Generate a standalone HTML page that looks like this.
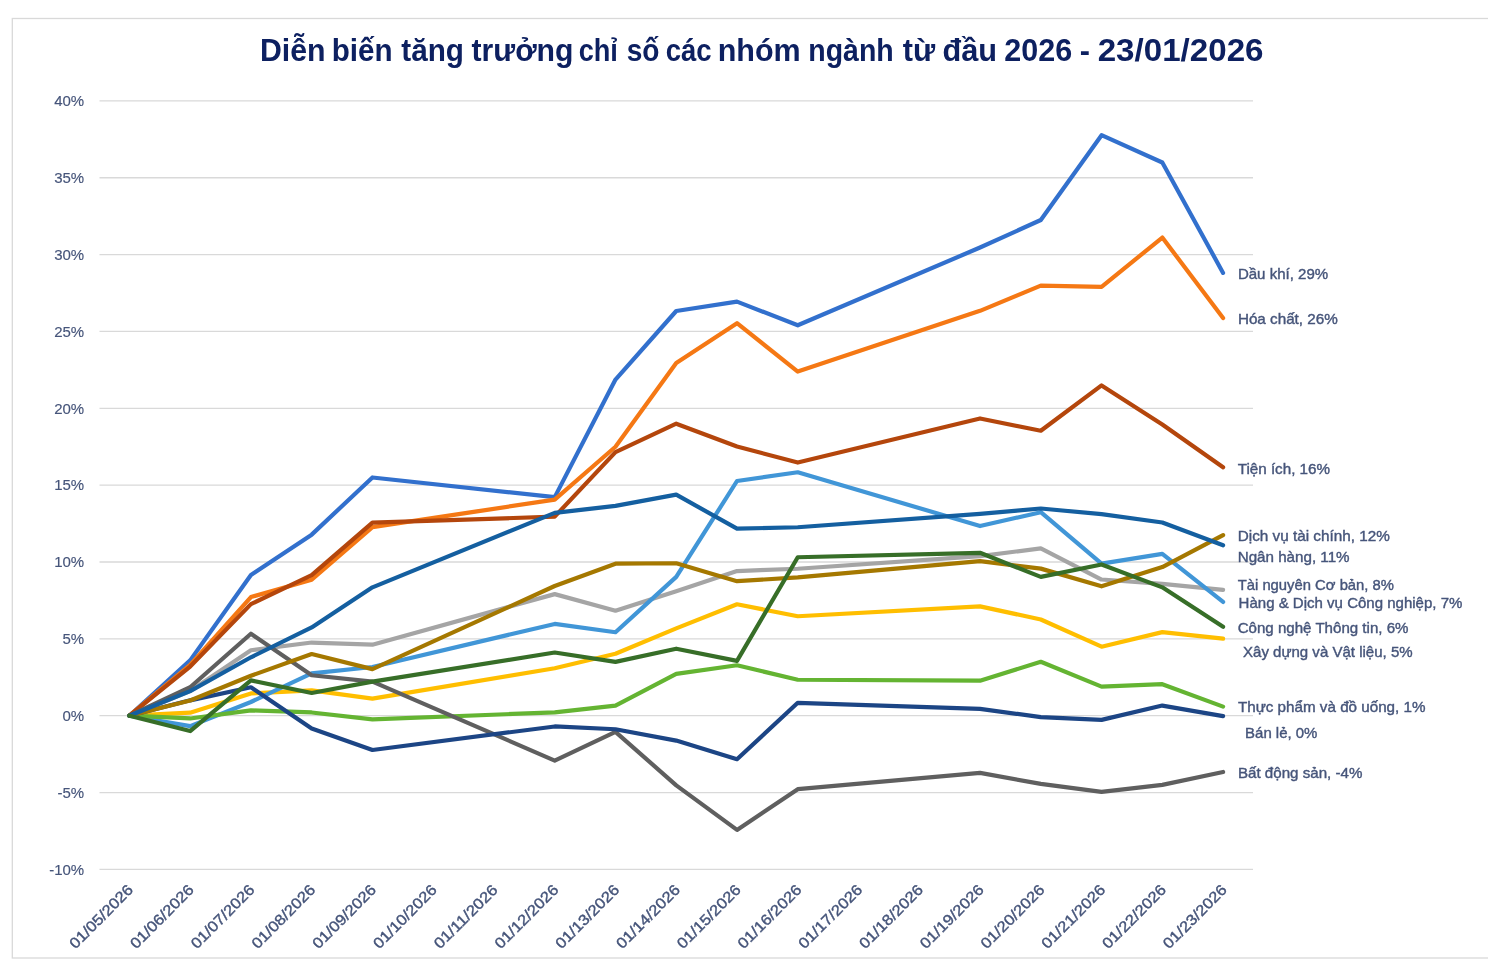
<!DOCTYPE html><html><head><meta charset="utf-8"><style>html,body{margin:0;padding:0;background:#fff;width:1488px;height:960px;overflow:hidden}svg{display:block;filter:blur(0.35px)}text{font-family:"Liberation Sans",sans-serif}</style></head><body>
<svg width="1488" height="960" viewBox="0 0 1488 960">
<rect x="0" y="0" width="1488" height="960" fill="#fff"/>
<rect x="12.3" y="18.5" width="1500" height="939.5" fill="none" stroke="#D9D9D9" stroke-width="1.3"/>
<text x="259.90" y="61" font-size="31" font-weight="bold" fill="#0D2060" textLength="65.60" lengthAdjust="spacingAndGlyphs">Diễn</text>
<text x="331.70" y="61" font-size="31" font-weight="bold" fill="#0D2060" textLength="60.80" lengthAdjust="spacingAndGlyphs">biến</text>
<text x="401.30" y="61" font-size="31" font-weight="bold" fill="#0D2060" textLength="62.60" lengthAdjust="spacingAndGlyphs">tăng</text>
<text x="471.50" y="61" font-size="31" font-weight="bold" fill="#0D2060" textLength="102.00" lengthAdjust="spacingAndGlyphs">trưởng</text>
<text x="578.70" y="61" font-size="31" font-weight="bold" fill="#0D2060" textLength="39.20" lengthAdjust="spacingAndGlyphs">chỉ</text>
<text x="626.70" y="61" font-size="31" font-weight="bold" fill="#0D2060" textLength="32.80" lengthAdjust="spacingAndGlyphs">số</text>
<text x="665.70" y="61" font-size="31" font-weight="bold" fill="#0D2060" textLength="46.00" lengthAdjust="spacingAndGlyphs">các</text>
<text x="717.70" y="61" font-size="31" font-weight="bold" fill="#0D2060" textLength="83.00" lengthAdjust="spacingAndGlyphs">nhóm</text>
<text x="808.30" y="61" font-size="31" font-weight="bold" fill="#0D2060" textLength="85.40" lengthAdjust="spacingAndGlyphs">ngành</text>
<text x="902.70" y="61" font-size="31" font-weight="bold" fill="#0D2060" textLength="32.40" lengthAdjust="spacingAndGlyphs">từ</text>
<text x="942.50" y="61" font-size="31" font-weight="bold" fill="#0D2060" textLength="54.60" lengthAdjust="spacingAndGlyphs">đầu</text>
<text x="1004.30" y="61" font-size="31" font-weight="bold" fill="#0D2060" textLength="67.80" lengthAdjust="spacingAndGlyphs">2026</text>
<text x="1079.70" y="61" font-size="31" font-weight="bold" fill="#0D2060" textLength="10.20" lengthAdjust="spacingAndGlyphs">-</text>
<text x="1097.70" y="61" font-size="31" font-weight="bold" fill="#0D2060" textLength="165.80" lengthAdjust="spacingAndGlyphs">23/01/2026</text>
<line x1="99.5" y1="869.40" x2="1253" y2="869.40" stroke="#D9D9D9" stroke-width="1.3"/>
<text x="84.2" y="874.70" font-size="15" fill="#46557A" stroke="#46557A" stroke-width="0.15" text-anchor="end">-10%</text>
<line x1="99.5" y1="792.55" x2="1253" y2="792.55" stroke="#D9D9D9" stroke-width="1.3"/>
<text x="84.2" y="797.85" font-size="15" fill="#46557A" stroke="#46557A" stroke-width="0.15" text-anchor="end">-5%</text>
<line x1="99.5" y1="715.70" x2="1253" y2="715.70" stroke="#D9D9D9" stroke-width="1.3"/>
<text x="84.2" y="721.00" font-size="15" fill="#46557A" stroke="#46557A" stroke-width="0.15" text-anchor="end">0%</text>
<line x1="99.5" y1="638.85" x2="1253" y2="638.85" stroke="#D9D9D9" stroke-width="1.3"/>
<text x="84.2" y="644.15" font-size="15" fill="#46557A" stroke="#46557A" stroke-width="0.15" text-anchor="end">5%</text>
<line x1="99.5" y1="562.00" x2="1253" y2="562.00" stroke="#D9D9D9" stroke-width="1.3"/>
<text x="84.2" y="567.30" font-size="15" fill="#46557A" stroke="#46557A" stroke-width="0.15" text-anchor="end">10%</text>
<line x1="99.5" y1="485.15" x2="1253" y2="485.15" stroke="#D9D9D9" stroke-width="1.3"/>
<text x="84.2" y="490.45" font-size="15" fill="#46557A" stroke="#46557A" stroke-width="0.15" text-anchor="end">15%</text>
<line x1="99.5" y1="408.30" x2="1253" y2="408.30" stroke="#D9D9D9" stroke-width="1.3"/>
<text x="84.2" y="413.60" font-size="15" fill="#46557A" stroke="#46557A" stroke-width="0.15" text-anchor="end">20%</text>
<line x1="99.5" y1="331.45" x2="1253" y2="331.45" stroke="#D9D9D9" stroke-width="1.3"/>
<text x="84.2" y="336.75" font-size="15" fill="#46557A" stroke="#46557A" stroke-width="0.15" text-anchor="end">25%</text>
<line x1="99.5" y1="254.60" x2="1253" y2="254.60" stroke="#D9D9D9" stroke-width="1.3"/>
<text x="84.2" y="259.90" font-size="15" fill="#46557A" stroke="#46557A" stroke-width="0.15" text-anchor="end">30%</text>
<line x1="99.5" y1="177.75" x2="1253" y2="177.75" stroke="#D9D9D9" stroke-width="1.3"/>
<text x="84.2" y="183.05" font-size="15" fill="#46557A" stroke="#46557A" stroke-width="0.15" text-anchor="end">35%</text>
<line x1="99.5" y1="100.90" x2="1253" y2="100.90" stroke="#D9D9D9" stroke-width="1.3"/>
<text x="84.2" y="106.20" font-size="15" fill="#46557A" stroke="#46557A" stroke-width="0.15" text-anchor="end">40%</text>
<text transform="translate(134.10,890.80) rotate(-45)" font-size="15" fill="#46557A" stroke="#46557A" stroke-width="0.4" text-anchor="end" textLength="83" lengthAdjust="spacingAndGlyphs">01/05/2026</text>
<text transform="translate(194.86,890.80) rotate(-45)" font-size="15" fill="#46557A" stroke="#46557A" stroke-width="0.4" text-anchor="end" textLength="83" lengthAdjust="spacingAndGlyphs">01/06/2026</text>
<text transform="translate(255.62,890.80) rotate(-45)" font-size="15" fill="#46557A" stroke="#46557A" stroke-width="0.4" text-anchor="end" textLength="83" lengthAdjust="spacingAndGlyphs">01/07/2026</text>
<text transform="translate(316.38,890.80) rotate(-45)" font-size="15" fill="#46557A" stroke="#46557A" stroke-width="0.4" text-anchor="end" textLength="83" lengthAdjust="spacingAndGlyphs">01/08/2026</text>
<text transform="translate(377.14,890.80) rotate(-45)" font-size="15" fill="#46557A" stroke="#46557A" stroke-width="0.4" text-anchor="end" textLength="83" lengthAdjust="spacingAndGlyphs">01/09/2026</text>
<text transform="translate(437.90,890.80) rotate(-45)" font-size="15" fill="#46557A" stroke="#46557A" stroke-width="0.4" text-anchor="end" textLength="83" lengthAdjust="spacingAndGlyphs">01/10/2026</text>
<text transform="translate(498.66,890.80) rotate(-45)" font-size="15" fill="#46557A" stroke="#46557A" stroke-width="0.4" text-anchor="end" textLength="83" lengthAdjust="spacingAndGlyphs">01/11/2026</text>
<text transform="translate(559.42,890.80) rotate(-45)" font-size="15" fill="#46557A" stroke="#46557A" stroke-width="0.4" text-anchor="end" textLength="83" lengthAdjust="spacingAndGlyphs">01/12/2026</text>
<text transform="translate(620.18,890.80) rotate(-45)" font-size="15" fill="#46557A" stroke="#46557A" stroke-width="0.4" text-anchor="end" textLength="83" lengthAdjust="spacingAndGlyphs">01/13/2026</text>
<text transform="translate(680.94,890.80) rotate(-45)" font-size="15" fill="#46557A" stroke="#46557A" stroke-width="0.4" text-anchor="end" textLength="83" lengthAdjust="spacingAndGlyphs">01/14/2026</text>
<text transform="translate(741.70,890.80) rotate(-45)" font-size="15" fill="#46557A" stroke="#46557A" stroke-width="0.4" text-anchor="end" textLength="83" lengthAdjust="spacingAndGlyphs">01/15/2026</text>
<text transform="translate(802.46,890.80) rotate(-45)" font-size="15" fill="#46557A" stroke="#46557A" stroke-width="0.4" text-anchor="end" textLength="83" lengthAdjust="spacingAndGlyphs">01/16/2026</text>
<text transform="translate(863.22,890.80) rotate(-45)" font-size="15" fill="#46557A" stroke="#46557A" stroke-width="0.4" text-anchor="end" textLength="83" lengthAdjust="spacingAndGlyphs">01/17/2026</text>
<text transform="translate(923.98,890.80) rotate(-45)" font-size="15" fill="#46557A" stroke="#46557A" stroke-width="0.4" text-anchor="end" textLength="83" lengthAdjust="spacingAndGlyphs">01/18/2026</text>
<text transform="translate(984.74,890.80) rotate(-45)" font-size="15" fill="#46557A" stroke="#46557A" stroke-width="0.4" text-anchor="end" textLength="83" lengthAdjust="spacingAndGlyphs">01/19/2026</text>
<text transform="translate(1045.50,890.80) rotate(-45)" font-size="15" fill="#46557A" stroke="#46557A" stroke-width="0.4" text-anchor="end" textLength="83" lengthAdjust="spacingAndGlyphs">01/20/2026</text>
<text transform="translate(1106.26,890.80) rotate(-45)" font-size="15" fill="#46557A" stroke="#46557A" stroke-width="0.4" text-anchor="end" textLength="83" lengthAdjust="spacingAndGlyphs">01/21/2026</text>
<text transform="translate(1167.02,890.80) rotate(-45)" font-size="15" fill="#46557A" stroke="#46557A" stroke-width="0.4" text-anchor="end" textLength="83" lengthAdjust="spacingAndGlyphs">01/22/2026</text>
<text transform="translate(1227.78,890.80) rotate(-45)" font-size="15" fill="#46557A" stroke="#46557A" stroke-width="0.4" text-anchor="end" textLength="83" lengthAdjust="spacingAndGlyphs">01/23/2026</text>
<polyline points="129.40,715.70 190.16,660.37 250.92,574.91 311.68,534.64 372.44,477.47 554.72,497.14 615.48,379.56 676.24,311.01 737.00,301.63 797.76,325.30 980.04,247.53 1040.80,220.02 1101.56,135.18 1162.32,162.53 1223.08,272.89" fill="none" stroke="#3270CD" stroke-width="4.20" stroke-linejoin="round" stroke-linecap="round"/>
<polyline points="129.40,715.70 190.16,664.98 250.92,597.04 311.68,579.68 372.44,527.11 554.72,499.60 615.48,446.73 676.24,362.96 737.00,323.15 797.76,371.57 980.04,310.85 1040.80,285.65 1101.56,286.88 1162.32,237.54 1223.08,318.08" fill="none" stroke="#F57814" stroke-width="4.20" stroke-linejoin="round" stroke-linecap="round"/>
<polyline points="129.40,715.70 190.16,691.11 250.92,650.22 311.68,642.54 372.44,644.69 554.72,594.12 615.48,610.72 676.24,591.20 737.00,571.07 797.76,568.76 980.04,556.16 1040.80,548.32 1101.56,579.52 1162.32,583.83 1223.08,589.82" fill="none" stroke="#A5A5A5" stroke-width="4.20" stroke-linejoin="round" stroke-linecap="round"/>
<polyline points="129.40,715.70 190.16,712.63 250.92,693.41 311.68,690.34 372.44,698.64 554.72,668.21 615.48,653.76 676.24,628.40 737.00,604.27 797.76,616.26 980.04,606.42 1040.80,619.48 1101.56,646.69 1162.32,632.09 1223.08,638.70" fill="none" stroke="#FFBE00" stroke-width="4.20" stroke-linejoin="round" stroke-linecap="round"/>
<polyline points="129.40,715.70 190.16,726.15 250.92,702.02 311.68,673.43 372.44,666.98 554.72,623.94 615.48,632.24 676.24,576.91 737.00,481.00 797.76,472.24 980.04,526.03 1040.80,512.20 1101.56,563.69 1162.32,553.85 1223.08,601.96" fill="none" stroke="#4196D7" stroke-width="4.20" stroke-linejoin="round" stroke-linecap="round"/>
<polyline points="129.40,715.70 190.16,718.47 250.92,710.32 311.68,712.47 372.44,719.39 554.72,712.32 615.48,705.56 676.24,673.89 737.00,665.29 797.76,679.73 980.04,680.66 1040.80,661.75 1101.56,686.65 1162.32,684.19 1223.08,706.63" fill="none" stroke="#64B432" stroke-width="4.20" stroke-linejoin="round" stroke-linecap="round"/>
<polyline points="129.40,715.70 190.16,666.52 250.92,604.11 311.68,575.06 372.44,522.65 554.72,516.66 615.48,452.10 676.24,423.67 737.00,446.57 797.76,462.56 980.04,418.44 1040.80,430.74 1101.56,385.40 1162.32,424.44 1223.08,467.32" fill="none" stroke="#B4460C" stroke-width="4.20" stroke-linejoin="round" stroke-linecap="round"/>
<polyline points="129.40,715.70 190.16,687.27 250.92,633.78 311.68,675.28 372.44,681.58 554.72,760.58 615.48,731.84 676.24,785.33 737.00,829.90 797.76,789.17 980.04,772.88 1040.80,783.94 1101.56,791.94 1162.32,784.87 1223.08,771.95" fill="none" stroke="#5F5F5F" stroke-width="4.20" stroke-linejoin="round" stroke-linecap="round"/>
<polyline points="129.40,715.70 190.16,700.33 250.92,687.27 311.68,728.46 372.44,749.98 554.72,726.46 615.48,729.23 676.24,740.60 737.00,759.20 797.76,702.79 980.04,708.94 1040.80,717.08 1101.56,719.85 1162.32,705.56 1223.08,716.16" fill="none" stroke="#1C4585" stroke-width="4.20" stroke-linejoin="round" stroke-linecap="round"/>
<polyline points="129.40,715.70 190.16,700.48 250.92,675.74 311.68,654.07 372.44,669.13 554.72,585.98 615.48,563.69 676.24,563.23 737.00,581.21 797.76,577.37 980.04,561.08 1040.80,568.61 1101.56,586.28 1162.32,567.07 1223.08,535.10" fill="none" stroke="#A57800" stroke-width="4.20" stroke-linejoin="round" stroke-linecap="round"/>
<polyline points="129.40,715.70 190.16,691.11 250.92,657.29 311.68,627.48 372.44,587.36 554.72,512.82 615.48,505.90 676.24,494.68 737.00,528.65 797.76,527.26 980.04,513.89 1040.80,508.51 1101.56,514.20 1162.32,522.50 1223.08,545.25" fill="none" stroke="#145FA0" stroke-width="4.20" stroke-linejoin="round" stroke-linecap="round"/>
<polyline points="129.40,715.70 190.16,731.07 250.92,680.35 311.68,692.95 372.44,681.58 554.72,652.53 615.48,661.91 676.24,648.69 737.00,660.83 797.76,557.24 980.04,552.78 1040.80,576.91 1101.56,564.46 1162.32,587.36 1223.08,626.86" fill="none" stroke="#376E28" stroke-width="4.20" stroke-linejoin="round" stroke-linecap="round"/>
<text x="1237.9" y="278.8" font-size="15" fill="#46557A" stroke="#46557A" stroke-width="0.4" textLength="90.3" lengthAdjust="spacingAndGlyphs">Dầu khí, 29%</text>
<text x="1237.9" y="323.9" font-size="15" fill="#46557A" stroke="#46557A" stroke-width="0.4" textLength="99.9" lengthAdjust="spacingAndGlyphs">Hóa chất, 26%</text>
<text x="1237.7" y="473.5" font-size="15" fill="#46557A" stroke="#46557A" stroke-width="0.4" textLength="92.3" lengthAdjust="spacingAndGlyphs">Tiện ích, 16%</text>
<text x="1237.7" y="540.5" font-size="15" fill="#46557A" stroke="#46557A" stroke-width="0.4" textLength="152.2" lengthAdjust="spacingAndGlyphs">Dịch vụ tài chính, 12%</text>
<text x="1237.7" y="562.1" font-size="15" fill="#46557A" stroke="#46557A" stroke-width="0.4" textLength="111.9" lengthAdjust="spacingAndGlyphs">Ngân hàng, 11%</text>
<text x="1237.7" y="589.6" font-size="15" fill="#46557A" stroke="#46557A" stroke-width="0.4" textLength="156.3" lengthAdjust="spacingAndGlyphs">Tài nguyên Cơ bản, 8%</text>
<text x="1238.6" y="608.1" font-size="15" fill="#46557A" stroke="#46557A" stroke-width="0.4" textLength="223.8" lengthAdjust="spacingAndGlyphs">Hàng &amp; Dịch vụ Công nghiệp, 7%</text>
<text x="1237.7" y="633.2" font-size="15" fill="#46557A" stroke="#46557A" stroke-width="0.4" textLength="170.8" lengthAdjust="spacingAndGlyphs">Công nghệ Thông tin, 6%</text>
<text x="1243.0" y="656.5" font-size="15" fill="#46557A" stroke="#46557A" stroke-width="0.4" textLength="169.6" lengthAdjust="spacingAndGlyphs">Xây dựng và Vật liệu, 5%</text>
<text x="1237.9" y="712.4" font-size="15" fill="#46557A" stroke="#46557A" stroke-width="0.4" textLength="187.6" lengthAdjust="spacingAndGlyphs">Thực phẩm và đồ uống, 1%</text>
<text x="1245.1" y="737.7" font-size="15" fill="#46557A" stroke="#46557A" stroke-width="0.4" textLength="72.3" lengthAdjust="spacingAndGlyphs">Bán lẻ, 0%</text>
<text x="1237.9" y="777.8" font-size="15" fill="#46557A" stroke="#46557A" stroke-width="0.4" textLength="124.5" lengthAdjust="spacingAndGlyphs">Bất động sản, -4%</text>
</svg></body></html>
